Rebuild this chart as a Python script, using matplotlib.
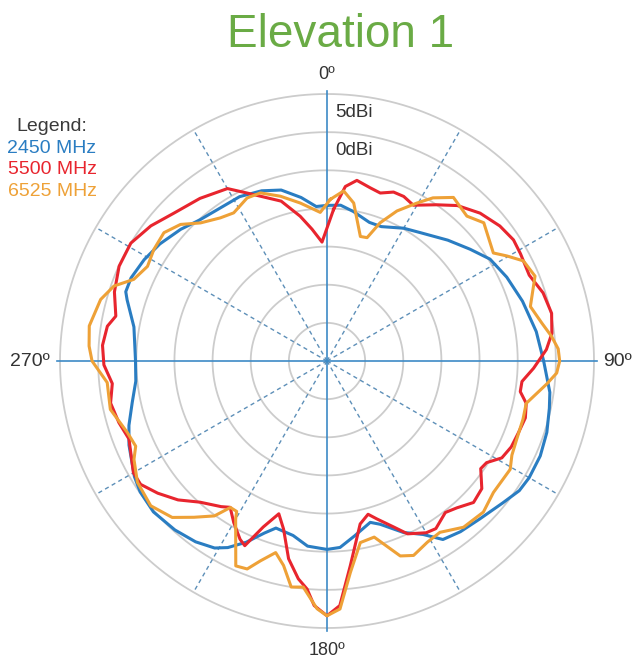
import numpy as np
import matplotlib
matplotlib.use("Agg")
import matplotlib.pyplot as plt
from matplotlib.transforms import offset_copy

plt.rcParams['font.family'] = ['Liberation Sans', 'DejaVu Sans']

# ---------------- data (angle in degrees, gain in dBi) ----------------
title = "Elevation 1"
series_names = ["2450 MHz", "5500 MHz", "6525 MHz"]
series_colors = ["#2a7dc2", "#e8252e", "#eea137"]

ang_2450 = [0, 5, 10, 17, 22, 30, 36, 45, 52, 58, 65, 73, 82, 90, 98, 102, 108, 114,
            120, 124, 129, 136, 142, 147, 151, 156, 162, 165, 171, 176, 180, 186, 191,
            197, 200, 204, 208, 211, 216, 222, 229, 235, 239, 247, 252, 258, 264, 270,
            280, 287, 289, 293, 299, 305, 312, 318, 324, 332, 339, 345, 351, 356]
gain_2450 = [-9.6, -9.5, -10.1, -11.0, -11.0, -9.9, -9.2, -7.6, -6.2, -4.8, -4.0, -3.2,
             -2.3, -1.6, -0.5, -0.2, 0.3, 0.6, 0.6, 0.4, -0.4, -1.2, -1.6, -2.1, -4.0,
             -5.4, -7.5, -8.1, -6.8, -5.5, -5.3, -5.6, -6.7, -7.1, -6.0, -4.0, -2.3,
             -1.4, -0.7, -0.2, 0.15, -0.1, -0.55, -1.8, -2.7, -3.9, -4.8, -4.9, -4.3,
             -2.6, -2.1, -2.1, -2.6, -3.25, -4.2, -5.1, -5.5, -5.6, -6.1, -6.8, -8.3,
             -9.7]

ang_5500 = [2.5, 6, 9.4, 14, 17.6, 21.5, 25, 29, 35, 40, 46, 52, 57, 61, 67, 72.5, 78,
            83, 87, 92, 96, 99, 102, 106, 110.5, 115, 119, 122.5, 125, 129.5, 134,
            138.5, 142, 147, 150, 155, 158, 162.5, 165, 168.5, 173.5, 177, 180, 183,
            185, 187.5, 191, 194.5, 197.5, 201, 204, 206, 210, 213.5, 216, 222, 227,
            232, 236.5, 240, 248.5, 253.5, 259, 264, 269, 274, 279, 282, 288, 294.5,
            301, 307.5, 314, 322, 330, 334.5, 344, 349.5, 353.5, 357.6]
gain_5500 = [-10.1, -7.0, -6.0, -6.6, -6.9, -6.2, -6.2, -6.65, -5.0, -3.4, -2.1, -1.25,
             -0.85, -1.0, -1.2, -0.3, 0.1, -0.3, -1.2, -2.9, -4.3, -4.35, -3.3, -2.95,
             -3.2, -3.35, -3.8, -5.2, -5.4, -3.7, -3.3, -4.3, -4.8, -3.8, -4.0, -5.0,
             -6.5, -8.3, -9.2, -8.2, -3.0, 2.1, 3.4, 2.1, 0.0, -1.2, -3.6, -7.25, -9.0,
             -6.7, -3.5, -4.0, -5.55, -7.0, -6.4, -5.1, -3.3, -1.85, -0.7, -0.7, -2.1,
             -1.55, -1.1, -1.7, -0.75, -0.5, -0.85, -1.7, -0.7, -0.05, 0.0, -0.9, -2.1,
             -2.95, -3.9, -5.6, -8.2, -10.7, -12.6, -14.4]

ang_6525 = [1.2, 5.6, 9.6, 15, 18, 21, 25, 29.6, 33, 37.7, 44, 48.6, 57, 59.7, 63, 67.8,
            75, 80, 83.7, 87, 90, 93, 96, 102, 106.5, 112.4, 117, 120.6, 128.3, 134,
            140.6, 146.6, 151, 156, 159.4, 165, 169.6, 173.7, 177, 180, 182.3, 186, 189,
            192, 195, 198.4, 201, 204, 210, 211, 213.4, 216, 220.4, 224.7, 230.6,
            237.4, 243, 246, 250.3, 257.4, 264.4, 270, 273.6, 278.4, 285.2, 289.4,
            292.9, 297.8, 302.8, 308.2, 313, 317.5, 323.3, 327.8, 333.9, 338.4, 344.2,
            350.4, 357.4]
gain_6525 = [-8.8, -7.6, -9.0, -13.1, -13.0, -10.6, -8.3, -6.2, -4.5, -2.9, -3.6, -2.6,
             -4.0, -2.7, -1.1, -0.55, -2.4, -1.4, -0.4, 0.35, 0.5, 0.15, -1.05, -3.3,
             -3.2, -3.1, -2.8, -2.1, -2.2, -1.5, -1.8, -3.1, -2.85, -2.1, -2.7, -6.1,
             -5.8, -2.1, 2.55, 3.4, 2.5, -0.2, 0.0, -2.6, -4.0, -2.4, -0.8, -0.6, -6.05,
             -7.0, -7.0, -4.9, -3.1, -1.15, -0.1, -0.5, -1.6, -2.55, -2.2, -0.9, -1.05,
             0.8, 1.25, 1.5, 0.75, -0.4, -2.5, -3.4, -3.0, -2.8, -3.75, -5.45, -6.6,
             -7.05, -6.2, -6.3, -7.55, -9.0, -10.5]

ring_levels = [-25, -20, -15, -10, -5, 0, 5]     # dBi
ring_labels = {5: "5dBi", 0: "0dBi"}
axis_labels = {0: "0º", 90: "90º", 180: "180º", 270: "270º"}
r_min = -30.0

# ---------------- figure ----------------
W, H = 632, 661
fig = plt.figure(figsize=(W / 100, H / 100), dpi=100)
cx, cy, R = 327, 361, 267
ax = fig.add_axes([(cx - R) / W, (H - cy - R) / H, 2 * R / W, 2 * R / H],
                  projection='polar')
ax.set_theta_zero_location('N')
ax.set_theta_direction(-1)
ax.set_ylim(0, ring_levels[-1] - r_min)
ax.grid(False)
ax.set_xticks([])
ax.set_yticks([])
ax.spines['polar'].set_visible(False)
ax.patch.set_alpha(0)

full = np.linspace(0, 2 * np.pi, 721)
for lev in ring_levels:
    ax.plot(full, np.full_like(full, lev - r_min), color='#cccccc', lw=1.3,
            zorder=1, clip_on=False)

rmax = ring_levels[-1] - r_min
for a in [30, 60, 120, 150, 210, 240, 300, 330]:
    ax.plot([0, np.deg2rad(a)], [0, rmax], color='#5d8fb8', lw=1.0,
            ls=(0, (3, 2.5)), zorder=2)
for a in [0, 90, 180, 270]:
    ax.plot([np.deg2rad(a), np.deg2rad(a)], [0, rmax + 0.4], color='#3d8ac6',
            lw=1.2, zorder=2, clip_on=False)

for ang, gain, col in [(ang_2450, gain_2450, series_colors[0]),
                       (ang_5500, gain_5500, series_colors[1]),
                       (ang_6525, gain_6525, series_colors[2])]:
    t = np.deg2rad(np.array(ang + [ang[0] + 360]))
    r = np.array(gain + [gain[0]]) - r_min
    ax.plot(t, r, color=col, lw=2.2, zorder=3, solid_joinstyle='round')

# ring labels
off = offset_copy(ax.transData, fig=fig, x=8, y=0, units='dots')
for lev, txt in ring_labels.items():
    ax.text(0, lev - r_min - 2.4, txt, transform=off, ha='left', va='center',
            fontsize=13.5, color='#333333')

# angle labels
ax.text(0, rmax + 2.6, axis_labels[0], ha='center', va='center', fontsize=13,
        color='#333333', clip_on=False)
ax.text(np.pi, rmax + 2.9, axis_labels[180], ha='center', va='center',
        fontsize=13, color='#333333', clip_on=False)
ax.text(np.pi / 2, rmax + 1.2, axis_labels[90], ha='left', va='center',
        fontsize=14, color='#333333', clip_on=False)
ax.text(3 * np.pi / 2, rmax + 1.4, axis_labels[270], ha='right', va='center',
        fontsize=14, color='#333333', clip_on=False)

# title
fig.text(340.5 / W, 1 - 47 / H, title, ha='center', va='baseline', fontsize=33,
         color='#6aab45')

# legend text
fig.text(52 / W, 1 - 131 / H, "Legend:", ha='center', va='baseline', fontsize=14,
         color='#3a3a3a')
for i, (nm, col) in enumerate(zip(series_names, series_colors)):
    fig.text(52 / W, 1 - (153 + 21.5 * i) / H, nm, ha='center', va='baseline',
             fontsize=14, color=col)

fig.savefig("out.png", dpi=100)
